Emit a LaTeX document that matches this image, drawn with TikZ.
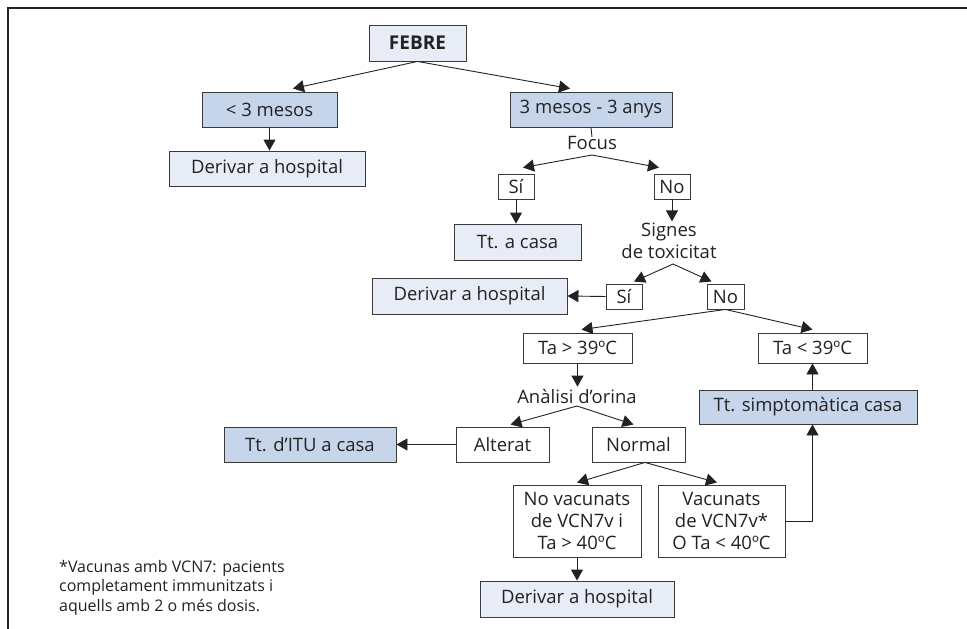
\documentclass[tikz,border=0pt]{standalone}
\usepackage{fontspec}
\setmainfont{Open Sans}
\usetikzlibrary{arrows.meta,calc}
\definecolor{boxdark}{HTML}{C6D5EA}
\definecolor{boxlight}{HTML}{E8ECF7}
\definecolor{edge}{HTML}{3A3A3A}
\definecolor{ink}{HTML}{222222}

\begin{document}
\begin{tikzpicture}[x=1pt,y=-1pt,
  every node/.style={font=\fontsize{18.5}{22}\selectfont, text=ink},
  box/.style={draw=edge, line width=0.9pt, inner sep=0pt, align=center},
  darkbox/.style={box, fill=boxdark},
  lightbox/.style={box, fill=boxlight},
  plainbox/.style={box, fill=white},
  lbl/.style={inner sep=0pt, align=center},
  arr/.style={draw=ink, line width=0.9pt, -{Triangle[length=11pt,width=12pt]}},
  link/.style={draw=ink, line width=0.9pt},
  note/.style={inner sep=0pt, align=left, anchor=north west, font=\fontsize{16}{19.5}\selectfont},
]
\useasboundingbox (0,0) rectangle (967,629);
% frame: top and left rules
\draw[line width=2.6pt, ink] (967,8) -- (8,8) -- (8,629);

% boxes
\node[lightbox, minimum width=97pt, minimum height=36pt, font=\fontsize{19}{22}\selectfont\bfseries] (febre) at (417.5,43) {FEBRE};
\node[darkbox, minimum width=135pt, minimum height=35pt] (m3) at (269.5,109.5) {< 3 mesos};
\node[lightbox, minimum width=196pt, minimum height=35pt] (der1) at (267,168.5) {Derivar a hospital};
\node[darkbox, minimum width=162pt, minimum height=35pt] (m33) at (591,109.5) {3 mesos - 3 anys};
\node[lbl] (focus) at (592,143) {Focus};
\node[plainbox, minimum width=36pt, minimum height=25pt] (si1) at (516,186.5) {Sí};
\node[plainbox, minimum width=36pt, minimum height=25pt] (no1) at (672,186.5) {No};
\node[lightbox, minimum width=127pt, minimum height=36pt] (ttcasa) at (517.5,242) {Tt. a casa};
\node[lbl] (signes) at (669,240.5) {Signes\\de toxicitat};
\node[plainbox, minimum width=36pt, minimum height=25pt] (si2) at (624,296.5) {Sí};
\node[plainbox, minimum width=37pt, minimum height=25pt] (no2) at (725.5,296.5) {No};
\node[lightbox, minimum width=195pt, minimum height=36pt] (der2) at (469.5,296) {Derivar a hospital};
\node[plainbox, minimum width=109pt, minimum height=30pt] (ta39g) at (577.5,348) {Ta > 39ºC};
\node[plainbox, minimum width=109pt, minimum height=30pt] (ta39l) at (812.5,348) {Ta < 39ºC};
\node[lbl] (analisi) at (577,396) {Anàlisi d’orina};
\node[plainbox, minimum width=93pt, minimum height=35pt] (alterat) at (502.5,444.5) {Alterat};
\node[plainbox, minimum width=93pt, minimum height=35pt] (normal) at (638.5,444.5) {Normal};
\node[darkbox, minimum width=172pt, minimum height=35pt] (itu) at (310,444.5) {Tt. d’ITU a casa};
\node[plainbox, minimum width=128pt, minimum height=72pt] (novac) at (577,521) {No vacunats\\de VCN7v i\\Ta > 40ºC};
\node[plainbox, minimum width=127pt, minimum height=72pt] (vac) at (721.5,521) {Vacunats\\de VCN7v*\\O Ta < 40ºC};
\node[lightbox, minimum width=194pt, minimum height=36pt] (der3) at (577,599) {Derivar a hospital};
\node[darkbox, minimum width=218pt, minimum height=34pt] (simpt) at (808,407) {Tt. simptomàtica casa};

\node[note] (foot) at (59,560) {*Vacunas amb VCN7: pacients\\completament immunitzats i\\aquells amb 2 o més dosis.};

% fork points
\coordinate (fFocus) at (592,155);
\coordinate (fSignes) at (673,264);
\coordinate (fAnalisi) at (577,406);

% connectors
\draw[arr] (febre.south) -- ([xshift=23.5pt,yshift=3pt]m3.north);
\draw[arr] (febre.south) -- ([xshift=-21pt,yshift=3pt]m33.north);
\draw[arr] (m3.south) -- (m3.south |- der1.north);
\draw[link] (m33.south) -- ([yshift=-1pt]focus.north);
\draw[arr] (fFocus) -- ([xshift=7pt,yshift=6pt]si1.north);
\draw[arr] (fFocus) -- ([xshift=-13pt,yshift=6pt]no1.north);
\draw[arr] (si1.south) -- (si1.south |- ttcasa.north);
\draw[arr] (no1.south) -- ([yshift=1pt]no1.south |- signes.north);
\draw[arr] (fSignes) -- ([xshift=10pt,yshift=2pt]si2.north);
\draw[arr] (fSignes) -- ([xshift=-14pt,yshift=2pt]no2.north);
\draw[arr] (si2.west) -- (der2.east);
\draw[arr] (no2.south) -- ([xshift=4pt,yshift=3pt]ta39g.north);
\draw[arr] (no2.south) -- ([yshift=3pt]ta39l.north);
\draw[arr] (ta39g.south) -- ([yshift=2pt]ta39g.south |- analisi.north);
\draw[arr] (fAnalisi) -- ([xshift=8pt,yshift=2pt]alterat.north);
\draw[arr] (fAnalisi) -- ([xshift=-5pt,yshift=2pt]normal.north);
\draw[arr] (alterat.west) -- (itu.east);
\draw[arr] ([xshift=6.5pt]normal.south) -- ([yshift=2pt]novac.north);
\draw[arr] ([xshift=6.5pt]normal.south) -- ([xshift=-4.5pt,yshift=2pt]vac.north);
\draw[arr] (novac.south) -- (novac.south |- der3.north);
\draw[arr] (vac.east) -| (ta39l.south |- simpt.south);
\draw[arr] (ta39l.south |- simpt.north) -- (ta39l.south);
\end{tikzpicture}
\end{document}
